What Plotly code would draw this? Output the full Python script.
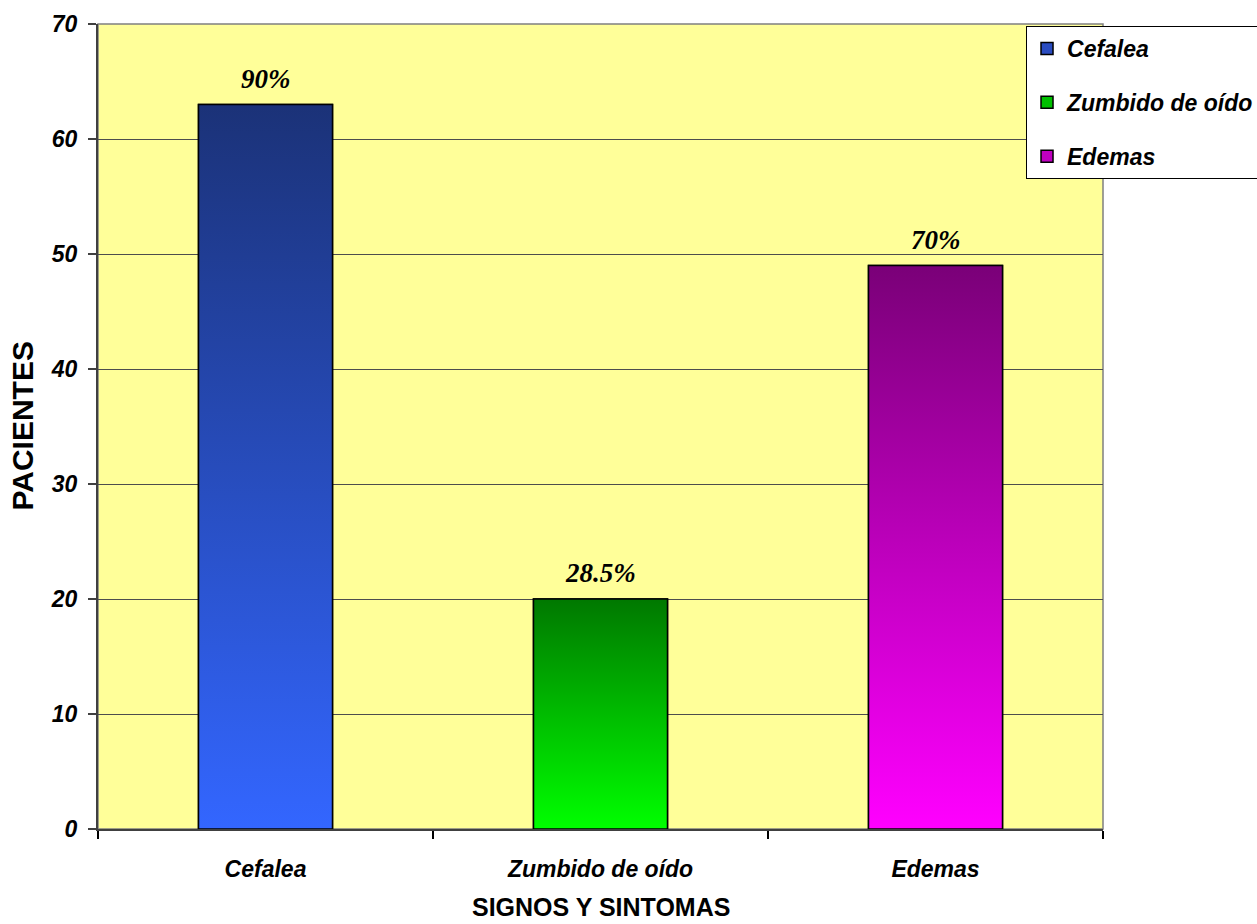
import plotly.graph_objects as go

# Datos: pacientes por signo / síntoma
categorias = ["Cefalea", "Zumbido de oído", "Edemas"]
pacientes = [63, 20, 49]
porcentajes = ["90%", "28.5%", "70%"]
y_ticks = [0, 10, 20, 30, 40, 50, 60, 70]

# Degradado vertical de cada barra (arriba oscuro, abajo claro)
color_arriba = ["#1B3278", "#007800", "#7A0078"]
color_abajo = ["#3366FF", "#00FF00", "#FF00FF"]
color_leyenda = ["#2A4CC0", "#00C000", "#C000C0"]

ANCHO = 0.4
posiciones = list(range(len(categorias)))

fig = go.Figure()

for i, (cat, val) in enumerate(zip(categorias, pacientes)):
    # barra base (define la entrada de la leyenda)
    fig.add_bar(
        x=[posiciones[i]], y=[val], width=ANCHO, name=cat,
        legendgroup=cat,
        marker=dict(color=color_leyenda[i], line=dict(color="#000000", width=1.5)),
        hoverinfo="skip",
    )
    # relleno con degradado sobre la barra
    x0, x1 = posiciones[i] - ANCHO / 2, posiciones[i] + ANCHO / 2
    fig.add_scatter(
        x=[x0, x1, x1, x0, x0], y=[0, 0, val, val, 0],
        mode="lines", fill="toself",
        fillgradient=dict(type="vertical",
                          colorscale=[[0, color_abajo[i]], [1, color_arriba[i]]],
                          start=0, stop=val),
        line=dict(color="#000000", width=1.5),
        showlegend=False, hoverinfo="skip", legendgroup=cat,
    )
    # etiqueta de porcentaje sobre la barra
    fig.add_annotation(
        x=posiciones[i], y=val, text=porcentajes[i], showarrow=False,
        yanchor="bottom", yshift=9,
        font=dict(family="Liberation Serif", size=27, color="#000000",
                  weight="bold", style="italic"),
    )

fuente_ticks = dict(family="Liberation Sans", size=23, color="#000000",
                    weight="bold", style="italic")
fuente_leyenda = dict(family="Liberation Sans", size=23, color="#000000",
                      weight="bold", style="italic")

fig.update_layout(
    width=1257, height=924,
    margin=dict(l=98, r=154, t=24, b=95, autoexpand=False),
    paper_bgcolor="#FFFFFF",
    plot_bgcolor="#FFFF99",
    barmode="overlay",
    showlegend=True,
    legend=dict(
        x=0.9234, y=0.9975, xanchor="left", yanchor="top",
        bgcolor="#FFFFFF", bordercolor="#000000", borderwidth=1,
        font=fuente_leyenda, tracegroupgap=21,
    ),
    xaxis=dict(
        range=[-0.5, 2.5], tickmode="array", tickvals=posiciones,
        ticktext=categorias, ticks="", tickfont=fuente_ticks,
        ticklabelstandoff=18,
        showgrid=False, zeroline=False,
        showline=True, linecolor="#404040", linewidth=2,
        minor=dict(ticks="outside", tick0=0.5, dtick=1, ticklen=8,
                   tickcolor="#000000", tickwidth=1.5, showgrid=False),
    ),
    yaxis=dict(
        range=[0, 70], tickmode="array", tickvals=y_ticks,
        ticks="outside", ticklen=8, tickcolor="#404040", tickwidth=1.5,
        tickfont=fuente_ticks, ticklabelstandoff=6,
        showgrid=True, gridcolor="#4D4D4D", gridwidth=1,
        zeroline=False,
        showline=True, linecolor="#404040", linewidth=2,
    ),
    shapes=[dict(type="rect", xref="paper", yref="paper", x0=0, x1=1, y0=0, y1=1,
                 line=dict(color="#808080", width=1.5), layer="below")],
    annotations=list(fig.layout.annotations) + [
        dict(text="PACIENTES", xref="paper", yref="paper", x=-0.0756, y=0.5,
             xanchor="center", yanchor="middle", textangle=-90, showarrow=False,
             font=dict(family="Liberation Sans", size=30, color="#000000", weight="bold")),
        dict(text="SIGNOS Y SINTOMAS", xref="paper", yref="paper", x=0.5, y=-0.097,
             xanchor="center", yanchor="middle", showarrow=False,
             font=dict(family="Liberation Sans", size=25, color="#000000", weight="bold")),
    ],
)

fig.write_html("out.html")
